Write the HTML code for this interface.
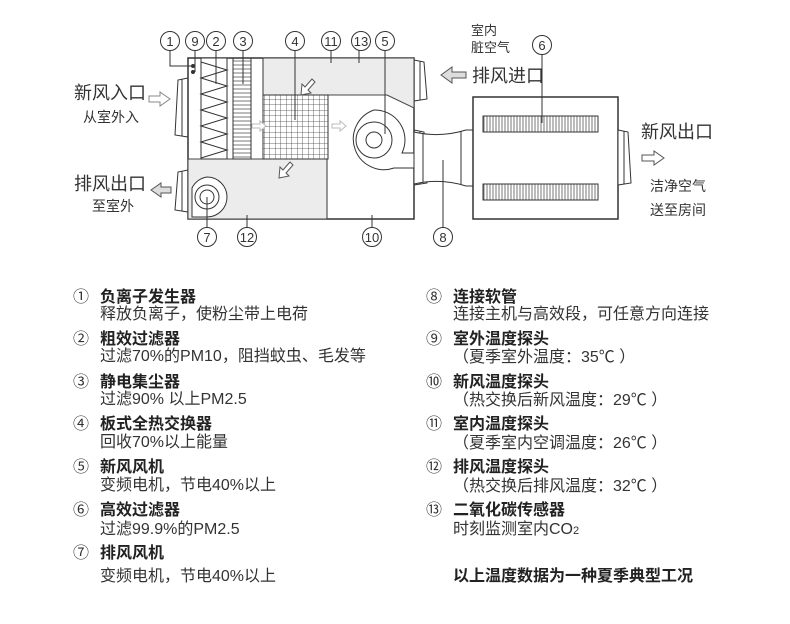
<!DOCTYPE html>
<html><head><meta charset="utf-8"><style>
html,body{margin:0;padding:0;background:#fff;}
svg{display:block;}
text{font-family:"Liberation Sans","Noto Sans CJK SC",sans-serif;fill:#333;}
.b{font-weight:bold;fill:#222;}
.n{font-size:13px;}
</style></head><body>
<svg width="790" height="624" viewBox="0 0 790 624" xmlns="http://www.w3.org/2000/svg">
<defs>
<pattern id="vh" width="3" height="10" patternUnits="userSpaceOnUse"><line x1="1" y1="0" x2="1" y2="10" stroke="#555" stroke-width="0.8"/></pattern>
<pattern id="hz" width="10" height="4" patternUnits="userSpaceOnUse"><line x1="0" y1="1" x2="10" y2="1" stroke="#555" stroke-width="0.8"/></pattern>
<pattern id="grid" width="5.5" height="5.5" patternUnits="userSpaceOnUse"><path d="M0 0H5.5M0 0V5.5" stroke="#444" stroke-width="0.8" fill="none"/></pattern>
</defs>
<g stroke="#333" stroke-width="1" fill="#fff">
<path d="M188 78 L178 80 L175 135 L188 137 Z"/><line x1="182" y1="79" x2="182" y2="136"/>
<path d="M188 170 L178 172 L175 210 L188 212 Z"/><line x1="182" y1="171" x2="182" y2="211"/>
<path d="M414 60 L424 62 L427 99 L414 101 Z"/><line x1="420" y1="61" x2="420" y2="100"/>
<path d="M414 130 L424 132 L427 183 L414 185 Z"/><line x1="420" y1="131" x2="420" y2="184"/>
<rect x="188" y="58" width="226" height="161" stroke-width="1.5"/>
<path d="M263 58 H414 V108 L387 95 H263 Z" fill="#ececec" stroke="#444"/>
<rect x="188" y="159" width="139" height="60" fill="#ececec" stroke="#444"/>
<line x1="327" y1="159" x2="327" y2="219"/>
<rect x="263" y="95" width="65" height="64" fill="url(#grid)"/>
<line x1="263" y1="58" x2="263" y2="159"/>
<rect x="201" y="58" width="26" height="101" fill="#fff"/>
<path d="M201 62 L227 70 L201 78 L227 86 L201 94 L227 102 L201 110 L227 118 L201 126 L227 134 L201 142 L227 150 L201 158" fill="none"/>
<rect x="233" y="58" width="18" height="101" fill="url(#hz)"/>
<line x1="233" y1="58" x2="233" y2="159"/><line x1="251" y1="58" x2="251" y2="159"/>
<path d="M374 110 A30 30 0 1 0 394 168 L414 168 L414 153 L402 153 A30 30 0 0 0 374 110 Z" fill="#fff"/>
<circle cx="374" cy="140" r="18"/><circle cx="374" cy="140" r="8"/>
<path d="M207 177 A20 20 0 1 1 207 217 L192 217 L192 188 A20 20 0 0 1 207 177 Z" fill="#fff"/>
<circle cx="207" cy="197" r="12"/><circle cx="207" cy="197" r="7"/>
<path d="M414 132 Q440 138 466 130 L473 130 L473 186 L466 186 Q440 178 414 184 Z"/>
<line x1="423" y1="134" x2="423" y2="182"/><line x1="461" y1="131" x2="461" y2="185"/>
<rect x="473" y="97" width="145" height="122" stroke-width="1.5"/>
<rect x="483" y="116" width="115" height="16" fill="url(#vh)"/>
<rect x="483" y="184" width="115" height="16" fill="url(#vh)"/>
<path d="M618 130 L628 132 L631 183 L618 185 Z"/><line x1="624" y1="131" x2="624" y2="184"/>
</g>
<g stroke="#888" fill="#fff" stroke-width="1">
<path d="M149 96 H160 V92 L170 99 L160 106 V102 H149 Z"/>
<path d="M252 124 H260 V121 L266 126 L260 131 V128 H252 Z" stroke="#bbb"/>
<path d="M332 124 H340 V121 L346 126 L340 131 V128 H332 Z" stroke="#bbb"/>
<path d="M642 155 H654 V151 L664 158 L654 165 V161 H642 Z" stroke="#555"/>
</g>
<g stroke="#555" fill="#ddd" stroke-width="1">
<path d="M171 187 H161 V183 L151 190 L161 197 V193 H171 Z"/>
<path d="M466 72 H452 V67 L441 75 L452 83 V78 H466 Z"/>
<path d="M312 79 L305 87 L302 84 L301 95 L311 93 L308 90 L315 82 Z" fill="#fff"/>
<path d="M290 162 L283 170 L280 167 L279 178 L289 176 L286 173 L293 165 Z" fill="#fff"/>
</g>
<g stroke="#333" fill="none">
<path d="M170 50 V66 H192"/><circle cx="193" cy="66" r="1.5" fill="#333"/>
<path d="M195 50 V72"/><circle cx="193" cy="72" r="1.5" fill="#333"/>
<line x1="216" y1="50" x2="216" y2="84"/>
<line x1="243" y1="50" x2="243" y2="84"/>
<line x1="295" y1="50" x2="295" y2="120"/>
<line x1="331" y1="50" x2="331" y2="63"/>
<line x1="359" y1="50" x2="359" y2="63"/>
<line x1="385" y1="50" x2="385" y2="134"/>
<line x1="207" y1="197" x2="207" y2="228"/>
<line x1="247" y1="215" x2="247" y2="228"/>
<line x1="372" y1="215" x2="372" y2="228"/>
<line x1="443" y1="160" x2="443" y2="228"/>
<line x1="542" y1="54" x2="542" y2="123"/>
</g>
<g stroke="#333" fill="#fff">
<circle cx="170" cy="41" r="9.5"/><circle cx="195" cy="41" r="9.5"/><circle cx="216" cy="41" r="9.5"/><circle cx="243" cy="41" r="9.5"/>
<circle cx="295" cy="41" r="9.5"/><circle cx="331" cy="41" r="9.5"/><circle cx="361" cy="41" r="9.5"/><circle cx="385" cy="41" r="9.5"/>
<circle cx="207" cy="237" r="9.5"/><circle cx="247" cy="237" r="9.5"/><circle cx="372" cy="237" r="9.5"/><circle cx="443" cy="237" r="9.5"/>
<circle cx="542" cy="45" r="9.5"/>
</g>
<g class="n" text-anchor="middle">
<text x="170" y="46">1</text><text x="195" y="46">9</text><text x="216" y="46">2</text><text x="243" y="46">3</text>
<text x="295" y="46">4</text><text x="331" y="46">11</text><text x="361" y="46">13</text><text x="385" y="46">5</text>
<text x="207" y="242">7</text><text x="247" y="242">12</text><text x="372" y="242">10</text><text x="443" y="242">8</text>
<text x="542" y="50">6</text>
</g>
<text x="74" y="99" font-size="18">新风入口</text>
<text x="83" y="122" font-size="14">从室外入</text>
<text x="74" y="190" font-size="18">排风出口</text>
<text x="92" y="211" font-size="14">至室外</text>
<text x="471" y="35" font-size="13">室内</text>
<text x="471" y="52" font-size="13">脏空气</text>
<text x="472" y="82" font-size="18">排风进口</text>
<text x="641" y="138" font-size="18">新风出口</text>
<text x="650" y="191" font-size="14">洁净空气</text>
<text x="650" y="215" font-size="14">送至房间</text>
<g font-size="16">
<text x="73" y="302">①</text><text class="b" x="100" y="302">负离子发生器</text><text x="100" y="319">释放负离子，使粉尘带上电荷</text>
<text x="73" y="344">②</text><text class="b" x="100" y="344">粗效过滤器</text><text x="100" y="361">过滤70%的PM10，阻挡蚊虫、毛发等</text>
<text x="73" y="387">③</text><text class="b" x="100" y="387">静电集尘器</text><text x="100" y="404">过滤90% 以上PM2.5</text>
<text x="73" y="429">④</text><text class="b" x="100" y="429">板式全热交换器</text><text x="100" y="447">回收70%以上能量</text>
<text x="73" y="472">⑤</text><text class="b" x="100" y="472">新风风机</text><text x="100" y="490">变频电机，节电40%以上</text>
<text x="73" y="515">⑥</text><text class="b" x="100" y="515">高效过滤器</text><text x="100" y="534">过滤99.9%的PM2.5</text>
<text x="73" y="558">⑦</text><text class="b" x="100" y="558">排风风机</text><text x="100" y="581">变频电机，节电40%以上</text>
<text x="426" y="302">⑧</text><text class="b" x="453" y="302">连接软管</text><text x="453" y="319">连接主机与高效段，可任意方向连接</text>
<text x="426" y="344">⑨</text><text class="b" x="453" y="344">室外温度探头</text><text x="453" y="362">（夏季室外温度：35℃ ）</text>
<text x="426" y="387">⑩</text><text class="b" x="453" y="387">新风温度探头</text><text x="453" y="405">（热交换后新风温度：29℃ ）</text>
<text x="426" y="429">⑪</text><text class="b" x="453" y="429">室内温度探头</text><text x="453" y="448">（夏季室内空调温度：26℃ ）</text>
<text x="426" y="472">⑫</text><text class="b" x="453" y="472">排风温度探头</text><text x="453" y="491">（热交换后排风温度：32℃ ）</text>
<text x="426" y="515">⑬</text><text class="b" x="453" y="515">二氧化碳传感器</text><text x="453" y="534">时刻监测室内CO<tspan font-size="11">2</tspan></text>
<text class="b" x="453" y="581">以上温度数据为一种夏季典型工况</text>
</g>
</svg>
</body></html>
